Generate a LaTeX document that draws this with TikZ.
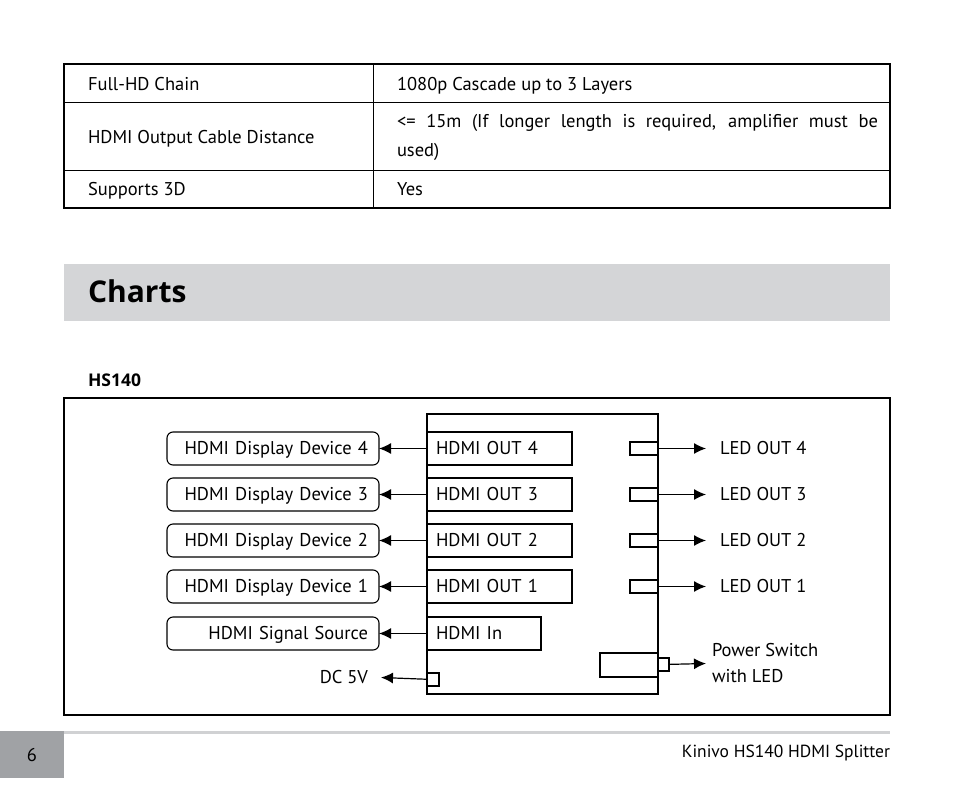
\documentclass[tikz,border=0pt]{standalone}
\usepackage{fontspec}
\setmainfont{PT Sans}
\newfontfamily\headfont{Open Sans}
\usepackage{xcolor}
\usepackage{tikz}
\usetikzlibrary{positioning, arrows.meta}

\definecolor{bandgray}{RGB}{212,213,215}
\definecolor{pagegray}{RGB}{160,162,165}
\definecolor{rulegray}{RGB}{208,209,211}

\begin{document}
\begin{tikzpicture}[x=1pt, y=-1pt, node distance=13pt and 48pt,
		every node/.style={inner sep=0pt, outer sep=0pt, font=\fontsize{18.5}{29}\selectfont},
		lbl/.style={text height=14pt, text depth=3pt},
		port/.style={draw, line width=1.3pt, lbl, align=left, text width=127pt, inner xsep=9pt, minimum height=33pt},
		device/.style={draw, line width=1.1pt, lbl, rounded corners=6pt, align=right, text width=190pt, inner xsep=11pt, minimum height=33pt},
		plug/.style={draw, line width=1.3pt, fill=white},
		wire/.style={line width=1.2pt, -{Latex[length=12pt, width=11pt]}}]
		\useasboundingbox (0,0) rectangle (954,796);
		
		% Table
		\draw[line width=1.8pt] (64,64) rectangle (890,208);
		\draw[line width=1pt] (64,102) -- (890,102) (64,170) -- (890,170) (373,64) -- (373,208);
		\node[anchor=base west] (chain) at (88,90) {Full-HD Chain};
		\node[anchor=base west] (chainval) at (397,90) {1080p Cascade up to 3 Layers};
		\node[anchor=base west] (dist) at (88,143) {HDMI Output Cable Distance};
		\node[anchor=west, text width=481pt, align=justify] (distval) at (397,137) {<= 15m (If longer length is required, amplifier must be\linebreak used)};
		\node[anchor=base west] (threed) at (88,195) {Supports 3D};
		\node[anchor=base west] (threedval) at (397,195) {Yes};
		
		% Heading
		\fill[bandgray] (64,264) rectangle (890,321);
		\node[anchor=base west, font=\fontsize{30}{36}\headfont\bfseries] (charts) at (88,302) {Charts};
		\node[anchor=base west, font=\fontsize{17.5}{20}\headfont\bfseries] (model) at (88,386) {HS140};
		
		% Frame and splitter body
		\draw[line width=1.8pt] (64,398) rectangle (890,715);
		\node[draw, line width=1.2pt, minimum width=231pt, minimum height=280pt, anchor=north west] (hub) at (427,414) {};
		
		% Nodes
		\node[port, anchor=north west] (out4) at (427,432) {HDMI OUT 4};
		\node[port, below=of out4] (out3) {HDMI OUT 3};
		\node[port, below=of out3] (out2) {HDMI OUT 2};
		\node[port, below=of out2] (out1) {HDMI OUT 1};
		\node[port, text width=96pt, below=14pt of out1.south west, anchor=north west] (in) {HDMI In};
		
		\node[device, left=of out4] (dev4) {HDMI Display Device 4};
		\node[device, left=of out3] (dev3) {HDMI Display Device 3};
		\node[device, left=of out2] (dev2) {HDMI Display Device 2};
		\node[device, left=of out1] (dev1) {HDMI Display Device 1};
		\node[device, left=of in] (src) {HDMI Signal Source};
		
		\node[plug, minimum width=12pt, minimum height=13pt] (dc) at (433,679.5) {};
		\node[lbl, anchor=east] (dctxt) at (368,677.5) {DC 5V};
		
		\node[plug, minimum width=28pt, minimum height=13pt, right=58pt of out4] (led4) {};
		\node[plug, minimum width=28pt, minimum height=13pt, right=58pt of out3] (led3) {};
		\node[plug, minimum width=28pt, minimum height=13pt, right=58pt of out2] (led2) {};
		\node[plug, minimum width=28pt, minimum height=13pt, right=58pt of out1] (led1) {};
		\node[lbl, right=62pt of led4] (ledtxt4) {LED OUT 4};
		\node[lbl, right=62pt of led3] (ledtxt3) {LED OUT 3};
		\node[lbl, right=62pt of led2] (ledtxt2) {LED OUT 2};
		\node[lbl, right=62pt of led1] (ledtxt1) {LED OUT 1};
		
		\node[plug, line width=2pt, minimum width=58pt, minimum height=24pt] (switch) at (629,664.5) {};
		\node[plug, minimum width=11pt, minimum height=13pt, right=0pt of switch] (btn) {};
		\node[align=left, anchor=west, font=\fontsize{18.5}{26}\selectfont] (switchtxt) at (712,663.5) {Power Switch\\with LED};
		
		% Edges
		\draw[wire] (out4) -- (dev4);
		\draw[wire] (out3) -- (dev3);
		\draw[wire] (out2) -- (dev2);
		\draw[wire] (out1) -- (dev1);
		\draw[wire] (in) -- (src);
		\draw[wire] (dc) -- ([xshift=13pt]dctxt.east);
		\draw[wire] (led4) -- ([xshift=-14pt]ledtxt4.west);
		\draw[wire] (led3) -- ([xshift=-14pt]ledtxt3.west);
		\draw[wire] (led2) -- ([xshift=-14pt]ledtxt2.west);
		\draw[wire] (led1) -- ([xshift=-14pt]ledtxt1.west);
		\draw[wire] (btn) -- ([xshift=-6pt]switchtxt.west);
		
		% Footer
		\draw[rulegray, line width=3pt] (35,732) -- (890,732);
		\fill[pagegray] (0,731) rectangle (64,778);
		\node (page) at (32,755) {6};
		\node[anchor=base east, font=\fontsize{17.5}{20}\selectfont] (title) at (890,757) {Kinivo HS140 HDMI Splitter};
	\end{tikzpicture}
\end{document}
